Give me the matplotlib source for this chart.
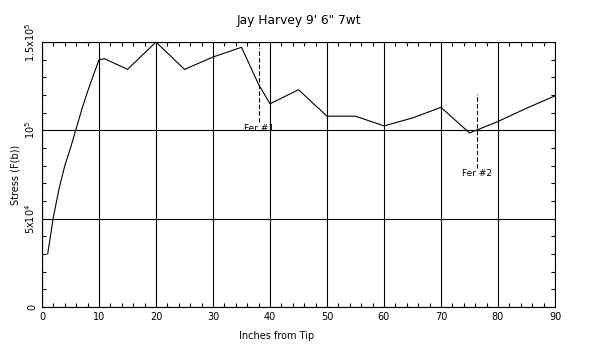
import numpy as np
import matplotlib
matplotlib.use('Agg')
from matplotlib import pyplot as plt
from matplotlib.ticker import MultipleLocator

# stress along the rod
inches = [1, 2, 3, 4, 5, 6, 7, 8, 9, 10, 11, 15, 20, 25, 30, 35, 38, 40,
          45, 50, 55, 60, 65, 70, 75, 80, 85, 90]
stress = [30000, 51000, 67000, 80000, 90000, 101000, 112000, 122000, 131000,
          140000, 140500, 134500, 150000, 134500, 141500, 147000, 126000,
          115000, 123000, 108000, 108000, 102500, 107000, 113000, 98500,
          105000, 112500, 119500]

ferrule_x = [38, 76.4]
ferrule_y = [125500, 99800]
ferrule_labels = ['Fer #1', 'Fer #2']

yticks = [0, 50000, 100000, 150000]
ytick_labels = ['0', r'5x10$^4$', r'10$^5$', r'1.5x10$^5$']

plt.rcParams['font.family'] = ['DejaVu Sans']
plt.rcParams['mathtext.default'] = 'regular'

fig = plt.figure(figsize=(6, 3.5), dpi=100)
ax = fig.add_axes([0.07, 0.123, 0.855, 0.757])

ax.plot(inches, stress, color='black', lw=0.8)

for fx, fy, lab in zip(ferrule_x, ferrule_y, ferrule_labels):
    ax.plot([fx, fx], [fy - 21000, fy + 21000], color='black', lw=0.8,
            ls=(0, (4, 2)))
    ax.text(fx, fy - 24500, lab, ha='center', va='center', fontsize=6.5)

ax.set_xlim(0, 90)
ax.set_ylim(0, 150000)
ax.set_xticks(np.arange(0, 91, 10))
ax.xaxis.set_minor_locator(MultipleLocator(2))
ax.set_yticks(yticks)
ax.set_yticklabels(ytick_labels, rotation=90, va='center')
ax.yaxis.set_minor_locator(MultipleLocator(10000))

ax.grid(True, which='major', color='black', lw=0.8)
ax.tick_params(which='both', direction='in', top=True, right=True,
               labelsize=7, width=0.8)
ax.tick_params(which='major', length=0)
ax.tick_params(which='minor', length=3)
for s in ax.spines.values():
    s.set_linewidth(0.8)

ax.set_title("Jay Harvey 9' 6\" 7wt", fontsize=8.8, pad=13)
ax.set_xlabel('Inches from Tip', fontsize=7)
ax.xaxis.set_label_coords(0.458, -0.09)
ax.set_ylabel('Stress (F(b))', fontsize=7, labelpad=2)

fig.savefig('out.png', dpi=100)
